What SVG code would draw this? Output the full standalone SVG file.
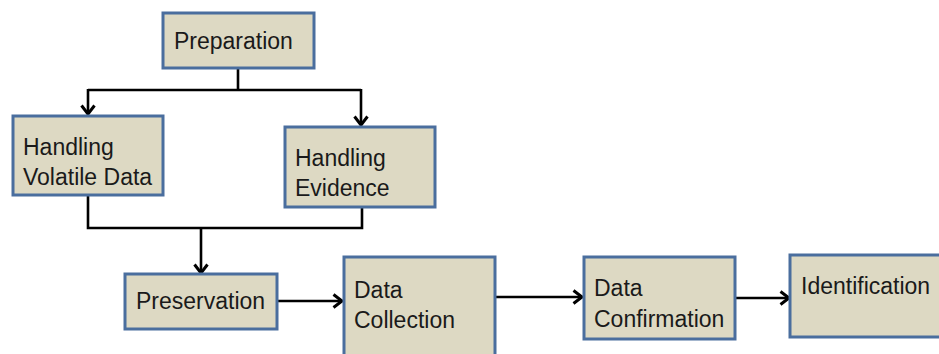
<svg xmlns="http://www.w3.org/2000/svg" width="939" height="354" viewBox="0 0 939 354">
<style>
.box{fill:#ddd9c3;stroke:#4a6e9e;stroke-width:3}
.lbl{font-family:"Liberation Sans",Arial,sans-serif;font-size:23px;fill:#1a1a1a}
.conn{fill:none;stroke:#000;stroke-width:2.6}
</style>
<defs>
<marker id="arr" markerUnits="userSpaceOnUse" markerWidth="16" markerHeight="16" viewBox="0 0 16 16" refX="13" refY="8" orient="auto">
<path d="M4.5,1.5 L13,8 L4.5,14.5" fill="none" stroke="#000" stroke-width="3"/>
</marker>
</defs>
<rect width="939" height="354" fill="#fff"/>
<g id="connectors">
<path class="conn" d="M238,69 V90 M88,90 H361"/>
<path class="conn" d="M88,89 V114" marker-end="url(#arr)"/>
<path class="conn" d="M361,89 V125" marker-end="url(#arr)"/>
<path class="conn" d="M88,196 V228 H362 V208"/>
<path class="conn" d="M201,228 V273" marker-end="url(#arr)"/>
<path class="conn" d="M278,301 H342" marker-end="url(#arr)"/>
<path class="conn" d="M496,297 H582" marker-end="url(#arr)"/>
<path class="conn" d="M736,298 H789" marker-end="url(#arr)"/>
</g>
<g id="preparation">
<rect class="box" x="163" y="13" width="151" height="55"/>
<text class="lbl" x="174" y="49">Preparation</text>
</g>
<g id="handling-volatile-data">
<rect class="box" x="13" y="116" width="150" height="79"/>
<text class="lbl" x="23" y="155">Handling</text>
<text class="lbl" x="23" y="185">Volatile Data</text>
</g>
<g id="handling-evidence">
<rect class="box" x="285" y="127" width="150" height="80"/>
<text class="lbl" x="295" y="166">Handling</text>
<text class="lbl" x="295" y="196">Evidence</text>
</g>
<g id="preservation">
<rect class="box" x="125" y="274" width="152" height="55"/>
<text class="lbl" x="136" y="309">Preservation</text>
</g>
<g id="data-collection">
<rect class="box" x="344" y="257" width="151" height="120"/>
<text class="lbl" x="354" y="298">Data</text>
<text class="lbl" x="354" y="328">Collection</text>
</g>
<g id="data-confirmation">
<rect class="box" x="584" y="257" width="151" height="82"/>
<text class="lbl" x="594" y="296">Data</text>
<text class="lbl" x="594" y="327">Confirmation</text>
</g>
<g id="identification">
<rect class="box" x="790" y="255" width="170" height="82"/>
<text class="lbl" x="801" y="294">Identification</text>
</g>
</svg>
